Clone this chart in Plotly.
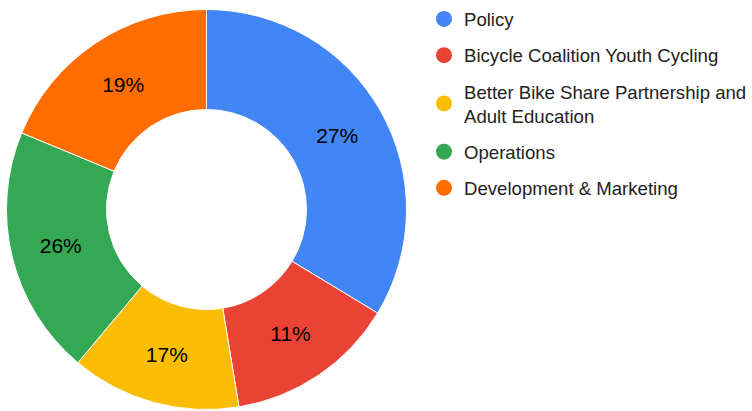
import plotly.graph_objects as go

categories = ["Policy", "Bicycle Coalition Youth Cycling",
              "Better Bike Share Partnership and<br>Adult Education",
              "Operations", "Development & Marketing"]
slice_values = [33.67, 13.74, 13.71, 20.14, 18.75]
slice_labels = ["27%", "11%", "17%", "26%", "19%"]
colors = ["#4285F4", "#EA4335", "#FBBC04", "#34A853", "#FF6D01"]

W, H = 752, 411
cx, cy, r = 206.5, 208.5, 201.0

fig = go.Figure()
fig.add_trace(go.Pie(
    labels=categories, values=slice_values, text=slice_labels,
    textinfo="text", textposition="inside", insidetextorientation="horizontal",
    textfont=dict(size=21, color="#000000", family="Arial, Liberation Sans"),
    marker=dict(colors=colors, line=dict(color="white", width=1)),
    hole=0.5, sort=False, direction="clockwise", rotation=0,
    showlegend=False, hoverinfo="label+percent",
    domain=dict(x=[(cx - r) / W, (cx + r) / W], y=[(H - cy - r) / H, (H - cy + r) / H]),
))
for i, (name, col) in enumerate(zip(categories, colors)):
    fig.add_trace(go.Scatter(
        x=[None], y=[None], mode="markers", name=name, legendgroup=str(i),
        marker=dict(color=col, size=16, symbol="circle"),
    ))

fig.update_layout(
    width=W, height=H, margin=dict(l=0, r=0, t=0, b=0),
    paper_bgcolor="white", plot_bgcolor="rgba(0,0,0,0)",
    xaxis=dict(visible=False, domain=[0, 0.01]),
    yaxis=dict(visible=False, domain=[0, 0.01]),
    font=dict(family="Arial, Liberation Sans", color="#222222"),
    legend=dict(x=1.0, y=1.004, xanchor="right", yanchor="top",
                font=dict(size=18.6, color="#222222"),
                tracegroupgap=9, itemsizing="trace", bgcolor="rgba(0,0,0,0)",
                bordercolor="rgba(0,0,0,0)", borderwidth=0),
)
fig.write_html("out.html", config={"displayModeBar": False},
               post_script=("document.body.style.margin='0';"
                            "document.body.style.overflow='hidden';"
                            "document.documentElement.style.overflow='hidden';"))
